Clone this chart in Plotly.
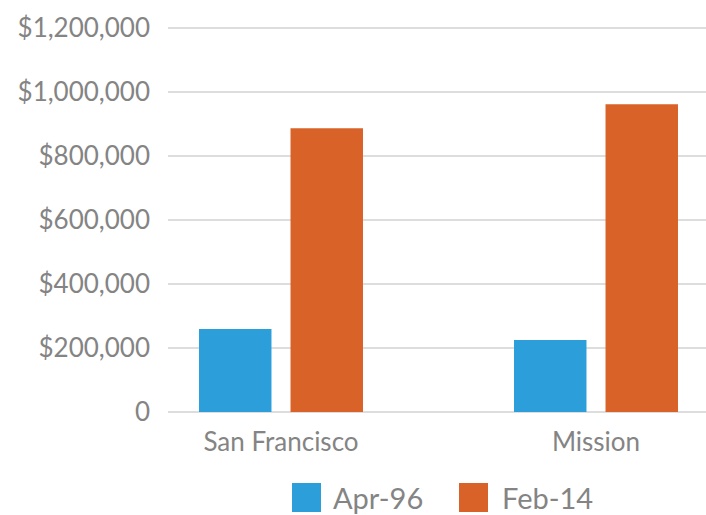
import plotly.graph_objects as go

categories = ["San Francisco", "Mission"]
series_names = ["Apr-96", "Feb-14"]
apr96 = [259000, 225000]
feb14 = [887000, 962000]
y_tick_vals = [0, 200000, 400000, 600000, 800000, 1000000, 1200000]
y_tick_text = ["0", "$200,000", "$400,000", "$600,000", "$800,000", "$1,000,000", "$1,200,000"]

colors = ["#2C9FDB", "#D96228"]
font_fam = "Lato, 'Open Sans', sans-serif"
gray = "#848484"

W, H = 706, 515
L = 168
pad_px = 4
T, B = 28 - pad_px, 103 - pad_px
pw, ph = W - L, H - T - B
upp = 1200000 / 384.0  # units per pixel
y0 = -upp * pad_px
y1 = 1200000 + upp * pad_px

cat_px = 315.0
first_center_px = 281.0
x0 = -(first_center_px - L) / cat_px
x1 = x0 + pw / cat_px

fig = go.Figure()
for name, vals, c in zip(series_names, [apr96, feb14], colors):
    fig.add_trace(go.Bar(x=categories, y=vals, name=name, marker=dict(color=c, line=dict(width=0)),
                         showlegend=False))

fig.update_layout(
    width=W, height=H,
    margin=dict(l=L, r=0, t=T, b=B, pad=0),
    paper_bgcolor="white", plot_bgcolor="white",
    barmode="group", bargap=0.419, bargroupgap=0.208,
    font=dict(family=font_fam, color=gray, size=26),
    xaxis=dict(range=[x0, x1], showgrid=False, showline=False, zeroline=False,
               ticks="", ticklabelstandoff=12 - pad_px,
               tickfont=dict(size=26, color=gray)),
    yaxis=dict(range=[y0, y1], tickvals=y_tick_vals, ticktext=y_tick_text,
               showgrid=True, gridcolor="#DDDDDD", gridwidth=2, zeroline=False,
               showline=False, ticks="", ticklabelstandoff=17,
               tickfont=dict(size=26, color=gray)),
)

def px_to_paper_x(px):
    return (px - L) / pw

def px_to_paper_y(py):
    return (H - B - py) / ph

legend_items = [(292, 331), (459, 500)]
for (sx, tx), name, c in zip(legend_items, series_names, colors):
    fig.add_shape(type="rect", xref="paper", yref="paper",
                  x0=px_to_paper_x(sx), x1=px_to_paper_x(sx + 29),
                  y0=px_to_paper_y(512), y1=px_to_paper_y(483),
                  fillcolor=c, line=dict(width=0))
    fig.add_annotation(xref="paper", yref="paper", x=px_to_paper_x(tx), y=px_to_paper_y(497.5),
                       text=name, showarrow=False, xanchor="left", yanchor="middle",
                       font=dict(size=29, color=gray, family=font_fam))

fig.write_html("out.html", config={"displayModeBar": False},
               post_script="document.body.style.margin='0';document.body.style.padding='0';")
